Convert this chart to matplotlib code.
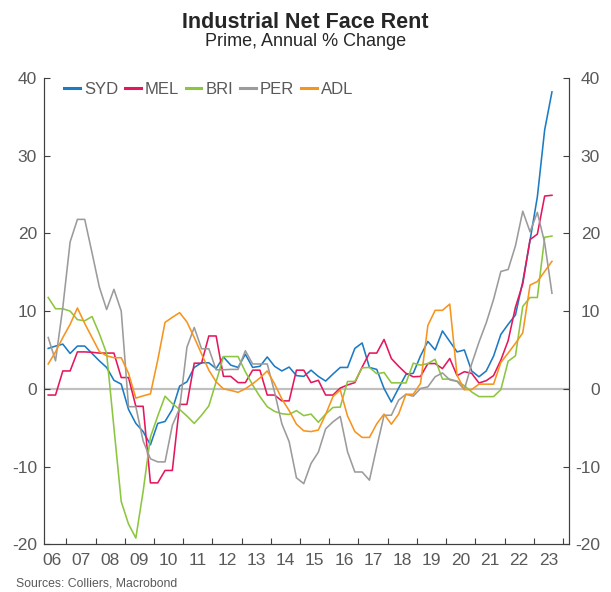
import numpy as np
import matplotlib.pyplot as plt

plt.rcParams['font.family'] = ['Liberation Sans', 'DejaVu Sans']

# quarterly, 2006 Q2 .. 2023 Q3 (plotted at mid-quarter)
quarters = np.arange(2006.375, 2023.7, 0.25)

syd = [5.2, 5.5, 5.75, 4.55, 5.5, 5.5, 4.55, 3.6, 2.75, 1.1,
       0.6, -2.65, -4.45, -5.5, -7.2, -4.45, -4.2, -2.65, 0.35, 0.9,
       2.75, 3.35, 3.35, 2.6, 4.1, 3.05, 2.75, 4.45, 2.75, 2.9,
       4.1, 2.9, 2.3, 2.8, 1.7, 1.6, 2.4, 1.6, 1.0, 1.9,
       2.75, 2.75, 5.2, 5.9, 2.75, 2.5, 0.05, -1.7, 0.1, 1.85,
       2.0, 4.25, 6.1, 5.0, 7.45, 6.1, 4.75, 5.0, 2.3, 1.55,
       2.3, 4.2, 7.0, 8.3, 9.5, 13.8, 19.1, 24.7, 33.3, 38.2]
mel = [-0.8, -0.8, 2.3, 2.3, 4.75, 4.75, 4.7, 4.6, 4.6, 4.6,
       1.45, 1.45, -2.25, -2.25, -12.1, -12.1, -10.5, -10.5, -2.0, -2.0,
       3.3, 3.3, 6.8, 6.8, 1.6, 1.6, 0.8, 0.8, 2.4, 2.4,
       -0.8, -0.8, -1.55, -1.55, 2.4, 2.4, 0.8, 1.1, -0.8, -0.8,
       0.1, 0.5, 0.8, 2.8, 4.6, 4.6, 6.35, 3.9, 2.9, 2.0,
       1.55, 1.6, 3.25, 3.25, 2.6, 3.9, 1.7, 2.2, 2.0, 0.75,
       1.05, 1.7, 3.7, 6.2, 10.5, 13.5, 19.2, 19.9, 24.8, 24.9]
bri = [11.75, 10.3, 10.3, 10.0, 8.9, 8.75, 9.3, 7.1, 4.55, -5.0,
       -14.5, -17.4, -19.2, -13.2, -6.2, -3.5, -0.95, -1.9, -2.65, -3.5,
       -4.45, -3.4, -2.2, 0.9, 4.15, 4.15, 4.15, 2.2, 0.5, -1.0,
       -2.3, -2.9, -3.2, -3.3, -2.8, -3.45, -3.25, -4.3, -3.25, -2.4,
       -2.35, 0.95, 0.95, 2.7, 2.75, 1.95, 2.1, 0.77, 0.77, 0.75,
       3.3, 3.05, 3.25, 3.8, 1.25, 1.25, 1.0, 0.4, -0.4, -1.0,
       -1.0, -1.0, -0.1, 3.55, 4.25, 10.6, 11.75, 11.75, 19.5, 19.65]
per = [6.6, 3.6, 10.5, 18.9, 21.8, 21.8, 17.5, 13.1, 10.2, 12.8,
       10.0, -2.3, -2.3, -6.7, -9.0, -9.4, -9.4, -4.7, -2.5, 5.35,
       7.9, 5.15, 5.15, 2.45, 2.45, 2.5, 2.5, 4.9, 3.2, 3.2,
       3.2, -0.4, -4.5, -6.8, -11.45, -12.2, -9.6, -8.15, -5.15, -4.25,
       -3.55, -8.1, -10.7, -10.7, -11.75, -7.5, -3.4, -3.4, -1.45, -0.7,
       -0.95, 0.05, 0.25, 1.55, 2.05, 1.15, 0.95, -0.1, 3.2, 6.0,
       8.5, 11.5, 15.1, 15.35, 18.4, 22.85, 20.2, 22.7, 18.8, 12.3]
adl = [3.2, 4.75, 6.6, 8.3, 10.4, 8.4, 6.6, 4.8, 4.25, 4.0,
       4.0, 2.0, -1.2, -0.9, -0.65, 3.7, 8.55, 9.2, 9.8, 8.6,
       6.6, 4.5, 2.4, 0.9, 0.0, -0.2, -0.45, 0.0, 0.65, 1.4,
       2.3, 0.65, -1.3, -2.8, -4.55, -5.4, -5.5, -5.3, -3.3, -1.0,
       -0.15, -3.5, -5.5, -6.25, -6.25, -4.5, -3.25, -4.55, -3.25, -0.7,
       -0.7, 0.7, 8.15, 10.1, 10.1, 10.9, 1.75, -0.1, -0.1, 0.6,
       0.6, 0.6, 3.4, 4.6, 5.85, 7.2, 13.35, 13.8, 15.1, 16.4]

series = [("SYD", syd, "#1c7bc3"), ("MEL", mel, "#e5175c"), ("BRI", bri, "#8cc63f"),
          ("PER", per, "#9b9b9b"), ("ADL", adl, "#f7941e")]

years = np.arange(2007, 2025)
year_labels = ["%02d" % (y % 100) for y in range(2006, 2024)]
yticks = [-20, -10, 0, 10, 20, 30, 40]

text_col = "#595959"
spine_col = "#404040"

fig = plt.figure(figsize=(6.11, 5.92), dpi=100)
ax = fig.add_axes([0.072, 0.0806, 0.8598, 0.7878])

ax.axhline(0, color="#c0c0c0", lw=1.6, zorder=1)
for name, vals, col in series:
    ax.plot(quarters, vals, color=col, lw=1.15, label=name, zorder=2)

ax.set_xlim(2006.23, 2024.22)
ax.set_ylim(-20, 40)

ax.set_xticks(years)
ax.set_xticklabels([])
ax.set_xticks(np.arange(2006.5, 2024, 1.0), minor=True)
ax.set_xticklabels(year_labels, minor=True)
ax.tick_params(axis="x", which="major", direction="in", length=4, color=spine_col, width=0.8)
ax.tick_params(axis="x", which="minor", length=0, pad=6, labelsize=12.5, labelcolor=text_col)

ax.set_yticks(yticks)
ax.set_yticklabels([str(v) for v in yticks])
ax.tick_params(axis="y", direction="in", length=4, color=spine_col, width=0.8,
               labelsize=12.5, labelcolor=text_col, pad=5)

ax2 = ax.twinx()
ax2.set_ylim(-20, 40)
ax2.set_yticks(yticks)
ax2.set_yticklabels([str(v) for v in yticks])
ax2.tick_params(axis="y", direction="in", length=4, color=spine_col, width=0.8,
                labelsize=12.5, labelcolor=text_col, pad=22)
for lbl in ax2.get_yticklabels():
    lbl.set_horizontalalignment("right")

for a in (ax, ax2):
    a.spines["top"].set_visible(False)
    for s in ("left", "right", "bottom"):
        a.spines[s].set_color(spine_col)
        a.spines[s].set_linewidth(0.8)

leg = ax.legend(loc="center left", bbox_to_anchor=(0.038, 0.976), ncol=5, frameon=False,
                fontsize=12, handlelength=0.95, handletextpad=0.25, columnspacing=0.4,
                borderpad=0, borderaxespad=0, labelcolor=text_col)
for h in leg.get_lines():
    h.set_linewidth(2.2)

fig.text(0.5, 0.952, "Industrial Net Face Rent", ha="center", va="baseline",
         fontsize=15.5, fontweight="bold", color="#262626")
fig.text(0.5, 0.922, "Prime, Annual % Change", ha="center", va="baseline",
         fontsize=13, color="#262626")
fig.text(0.026, 0.009, "Sources: Colliers, Macrobond", ha="left", va="baseline",
         fontsize=8.8, color=text_col)

fig.savefig("out.png", dpi=100)
